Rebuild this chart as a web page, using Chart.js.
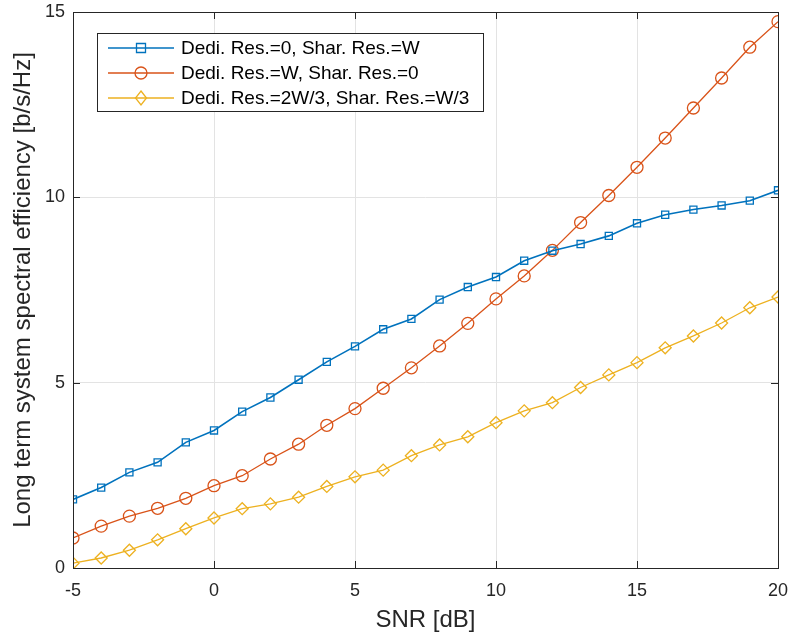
<!DOCTYPE html>
<html>
<head>
<meta charset="utf-8">
<script src="https://cdn.jsdelivr.net/npm/chart.js@4"></script>
<style>
  html, body { margin: 0; padding: 0; background: #fff; }
  #wrap { width: 792px; height: 637px; position: relative; }
</style>
</head>
<body>
<div id="wrap"><canvas id="seChart"></canvas></div>
<script>
// SNR points (dB)
const snr = [-5, -4, -3, -2, -1, 0, 1, 2, 3, 4, 5, 6, 7, 8, 9, 10, 11, 12, 13, 14, 15, 16, 17, 18, 19, 20];

// spectral efficiency per configuration [b/s/Hz]
const sharedOnly = [1.85, 2.17, 2.58, 2.85, 3.39, 3.71, 4.22, 4.60, 5.08, 5.56, 5.98, 6.44, 6.72, 7.24, 7.58, 7.85, 8.29, 8.56, 8.74, 8.96, 9.30, 9.53, 9.67, 9.78, 9.91, 10.19];
const dedicatedOnly = [0.81, 1.13, 1.40, 1.61, 1.88, 2.22, 2.49, 2.94, 3.34, 3.85, 4.30, 4.85, 5.40, 5.99, 6.60, 7.26, 7.88, 8.57, 9.32, 10.05, 10.81, 11.60, 12.41, 13.22, 14.05, 14.74];
const mixed = [0.13, 0.27, 0.48, 0.76, 1.06, 1.35, 1.60, 1.73, 1.91, 2.20, 2.46, 2.64, 3.03, 3.32, 3.54, 3.92, 4.24, 4.46, 4.87, 5.21, 5.54, 5.94, 6.26, 6.61, 7.02, 7.31];

const seriesLabels = [
    'Dedi. Res.=0, Shar. Res.=W',
    'Dedi. Res.=W, Shar. Res.=0',
    'Dedi. Res.=2W/3, Shar. Res.=W/3'
];
const xTicks = [-5, 0, 5, 10, 15, 20];
const yTicks = [0, 5, 10, 15];

const FONT = '"Liberation Sans", Arial, sans-serif';
const AXIS = '#262626';

function pts(vals) {
    return snr.map((x, i) => ({ x: x, y: vals[i] }));
}

// MATLAB style box, inward ticks and legend inside the axes
const boxPlugin = {
    id: 'matlabBox',
    afterDatasetsDraw(chart) {
        const { ctx, chartArea: a, scales } = chart;
        ctx.save();
        ctx.strokeStyle = AXIS;
        ctx.lineWidth = 1;
        const len = 7;
        ctx.beginPath();
        xTicks.forEach(v => {
            const px = Math.round(scales.x.getPixelForValue(v)) + 0.5;
            ctx.moveTo(px, a.bottom); ctx.lineTo(px, a.bottom - len);
            ctx.moveTo(px, a.top); ctx.lineTo(px, a.top + len);
        });
        yTicks.forEach(v => {
            const py = Math.round(scales.y.getPixelForValue(v)) + 0.5;
            ctx.moveTo(a.left, py); ctx.lineTo(a.left + len, py);
            ctx.moveTo(a.right, py); ctx.lineTo(a.right - len, py);
        });
        ctx.stroke();
        ctx.strokeRect(Math.round(a.left) + 0.5, Math.round(a.top) + 0.5,
            Math.round(a.right - a.left), Math.round(a.bottom - a.top));

        // legend
        const lx = 97, ly = 33, lw = 386, lh = 78;
        ctx.fillStyle = '#fff';
        ctx.fillRect(lx, ly, lw, lh);
        ctx.strokeStyle = AXIS;
        ctx.strokeRect(lx + 0.5, ly + 0.5, lw, lh);
        ctx.font = '19px ' + FONT;
        ctx.textBaseline = 'middle';
        chart.data.datasets.forEach((ds, i) => {
            const y = ly + 15 + i * 25;
            ctx.strokeStyle = ds.borderColor;
            ctx.lineWidth = ds.borderWidth;
            ctx.beginPath();
            ctx.moveTo(108, y); ctx.lineTo(174, y);
            ctx.stroke();
            ctx.lineWidth = 1.3;
            const cx = 141;
            ctx.beginPath();
            if (ds.pointStyle === 'rect') {
                ctx.rect(cx - 4.5, y - 4.5, 9, 9);
            } else if (ds.pointStyle === 'circle') {
                ctx.arc(cx, y, 6, 0, Math.PI * 2);
            } else {
                ctx.moveTo(cx, y - 7); ctx.lineTo(cx + 5.5, y);
                ctx.lineTo(cx, y + 7); ctx.lineTo(cx - 5.5, y); ctx.closePath();
            }
            ctx.stroke();
            ctx.fillStyle = '#000';
            ctx.fillText(ds.label, 181, y + 1);
        });
        ctx.restore();
    }
};

const ctx = document.getElementById('seChart').getContext('2d');
new Chart(ctx, {
    type: 'line',
    data: {
        datasets: [
            {
                label: seriesLabels[0],
                data: pts(sharedOnly),
                borderColor: '#0072BD',
                borderWidth: 1.6,
                pointStyle: 'rect',
                pointRadius: 5,
                pointBorderWidth: 1.3,
                pointBackgroundColor: 'rgba(0,0,0,0)'
            },
            {
                label: seriesLabels[1],
                data: pts(dedicatedOnly),
                borderColor: '#D95319',
                borderWidth: 1.3,
                pointStyle: 'circle',
                pointRadius: 6,
                pointBorderWidth: 1.3,
                pointBackgroundColor: 'rgba(0,0,0,0)'
            },
            {
                label: seriesLabels[2],
                data: pts(mixed),
                borderColor: '#EDB120',
                borderWidth: 1.3,
                pointStyle: 'rectRot',
                pointRadius: 6,
                pointBorderWidth: 1.3,
                pointBackgroundColor: 'rgba(0,0,0,0)'
            }
        ]
    },
    options: {
        responsive: true,
        maintainAspectRatio: false,
        animation: false,
        layout: { padding: { top: 12, right: 14, left: 0, bottom: 0 } },
        plugins: {
            legend: { display: false },
            tooltip: { enabled: false }
        },
        scales: {
            x: {
                type: 'linear',
                min: -5, max: 20,
                afterFit: s => { s.height = 69; s.paddingLeft = 0; s.paddingRight = 0; },
                afterBuildTicks: s => { s.ticks = xTicks.map(v => ({ value: v })); },
                grid: { color: '#e3e3e3', drawTicks: false },
                border: { display: false },
                ticks: { font: { family: FONT, size: 18 }, color: AXIS, padding: 12, maxRotation: 0 },
                title: { display: true, text: 'SNR [dB]', font: { family: FONT, size: 24 }, color: AXIS, padding: { top: 4, bottom: 2 } }
            },
            y: {
                min: 0, max: 15,
                afterFit: s => { s.width = 73; s.paddingTop = 0; s.paddingBottom = 0; },
                afterBuildTicks: s => { s.ticks = yTicks.map(v => ({ value: v })); },
                grid: { color: '#e3e3e3', drawTicks: false },
                border: { display: false },
                ticks: { font: { family: FONT, size: 18 }, color: AXIS, padding: 8 },
                title: { display: true, text: 'Long term system spectral efficiency [b/s/Hz]', font: { family: FONT, size: 24 }, color: AXIS, padding: { top: 9, bottom: 4 } }
            }
        }
    },
    plugins: [boxPlugin]
});
</script>
</body>
</html>
